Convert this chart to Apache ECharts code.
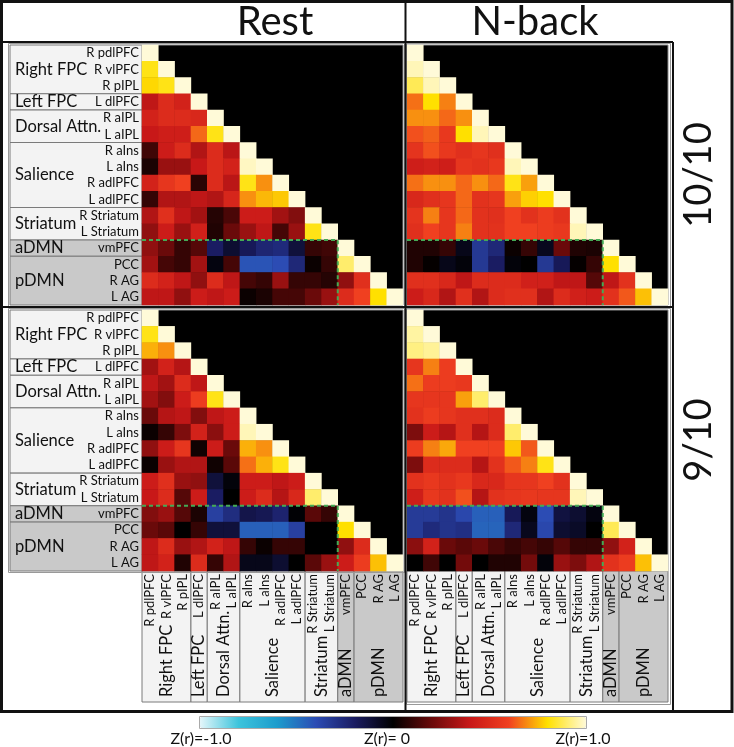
<!DOCTYPE html>
<html><head><meta charset="utf-8">
<script src="https://cdn.jsdelivr.net/npm/echarts@6/dist/echarts.min.js"></script>
<style>html,body{margin:0;padding:0;background:#fff}#c{width:734px;height:747px}</style>
</head><body><div id="c"></div>
<script>
// ---------- data ----------
const regions = ['R pdlPFC','R vlPFC','R pIPL','L dlPFC','R aIPL','L aIPL','R aIns','L aIns','R adlPFC','L adlPFC','R Striatum','L Striatum','vmPFC','PCC','R AG','L AG'];

const groupNames = ['Right FPC','Left FPC','Dorsal Attn.','Salience','Striatum','aDMN','pDMN'];
const groupStart = [0, 3, 4, 6, 10, 12, 13];
const groupEnd   = [2, 3, 5, 9, 11, 12, 15];
const dmnGroups = ['aDMN','pDMN'];
const dmnFirstRegion = 'vmPFC';

const columnTitles = ['Rest','N-back'];
const rowTitles = ['10/10','9/10'];
const colorbarTicks = ['Z(r)=-1.0','Z(r)= 0','Z(r)=1.0'];

// lower-triangular Fisher-z matrices (row i: columns 0..i)
const restFull = [
 [1],
 [0.82,1],
 [0.79,0.82,1],
 [0.38,0.50,0.45,1],
 [0.45,0.50,0.50,0.48,1],
 [0.40,0.43,0.43,0.65,0.82,1],
 [0.12,0.42,0.50,0.35,0.50,0.37,1],
 [0.05,0.30,0.30,0.40,0.50,0.45,0.98,1],
 [0.45,0.55,0.60,0.08,0.50,0.37,0.82,0.70,1],
 [0.10,0.35,0.35,0.38,0.35,0.47,0.70,0.75,0.77,1],
 [0.35,0.52,0.38,0.32,0.07,0.14,0.42,0.42,0.32,0.25,1],
 [0.28,0.42,0.30,0.44,0.06,0.20,0.30,0.38,0.13,0.30,0.82,1],
 [0.28,0.20,0.10,0.16,-0.20,-0.10,-0.18,-0.24,-0.26,-0.12,0.10,0.12,1],
 [0.32,0.13,0.10,0.32,-0.03,0.13,-0.42,-0.42,-0.40,-0.25,0.02,0.10,0.90,1],
 [0.50,0.45,0.38,0.28,0.50,0.38,0.13,0.10,0.30,0.10,0.10,0.07,0.28,0.52,1],
 [0.38,0.38,0.28,0.42,0.38,0.42,0.02,0.05,0.13,0.13,0.20,0.30,0.50,0.60,0.80,1]
];
const nbackFull = [
 [1],
 [0.97,1],
 [0.88,0.97,1],
 [0.66,0.80,0.68,1],
 [0.70,0.70,0.65,0.70,1],
 [0.62,0.64,0.56,0.80,0.97,1],
 [0.54,0.62,0.56,0.52,0.55,0.52,1],
 [0.43,0.45,0.43,0.55,0.53,0.56,0.97,1],
 [0.66,0.70,0.70,0.65,0.70,0.65,0.82,0.72,1],
 [0.48,0.52,0.55,0.65,0.53,0.55,0.72,0.78,0.80,1],
 [0.54,0.68,0.55,0.65,0.53,0.52,0.60,0.53,0.58,0.53,1],
 [0.52,0.60,0.55,0.68,0.53,0.53,0.60,0.60,0.58,0.56,0.97,1],
 [0.06,0.06,0.10,-0.05,-0.32,-0.25,0.02,0.10,-0.06,0.20,0.06,0.05,1],
 [0.06,0.01,-0.05,-0.02,-0.32,-0.20,-0.02,0.00,-0.32,-0.18,0.01,0.10,0.80,1],
 [0.52,0.52,0.48,0.38,0.50,0.50,0.50,0.44,0.44,0.38,0.38,0.16,0.38,0.53,1],
 [0.42,0.48,0.35,0.52,0.35,0.50,0.52,0.52,0.35,0.50,0.44,0.42,0.53,0.63,0.76,1]
];
const rest9 = [
 [1],
 [0.82,1],
 [0.74,0.70,1],
 [0.32,0.45,0.36,1],
 [0.38,0.32,0.50,0.38,1],
 [0.32,0.25,0.42,0.58,0.82,1],
 [0.20,0.36,0.38,0.25,0.38,0.42,1],
 [0.02,0.10,0.24,0.45,0.27,0.42,0.97,1],
 [0.28,0.42,0.55,0.03,0.42,0.20,0.74,0.70,1],
 [0.02,0.30,0.35,0.35,0.03,0.17,0.66,0.74,0.82,1],
 [0.42,0.52,0.30,0.28,-0.12,-0.02,0.42,0.42,0.38,0.42,1],
 [0.40,0.50,0.16,0.42,-0.20,0.00,0.42,0.50,0.36,0.48,0.90,1],
 [0.25,0.30,0.16,0.05,-0.35,-0.27,-0.15,-0.17,-0.23,-0.01,0.17,0.10,1],
 [0.20,0.17,0.00,0.10,-0.12,-0.12,-0.45,-0.45,-0.45,-0.35,0.00,0.00,0.80,1],
 [0.38,0.50,0.30,0.35,0.45,0.38,0.10,0.02,0.10,0.10,0.00,0.00,0.28,0.50,1],
 [0.38,0.45,0.06,0.50,0.10,0.35,-0.05,-0.05,-0.10,0.00,0.17,0.30,0.42,0.58,0.76,1]
];
const nback9 = [
 [1],
 [0.95,1],
 [0.92,0.94,1],
 [0.55,0.68,0.58,1],
 [0.66,0.58,0.58,0.56,1],
 [0.55,0.55,0.55,0.72,0.90,1],
 [0.53,0.58,0.55,0.52,0.52,0.50,1],
 [0.24,0.42,0.36,0.52,0.36,0.50,0.90,1],
 [0.58,0.68,0.73,0.60,0.60,0.60,0.77,0.63,1],
 [0.24,0.50,0.50,0.50,0.36,0.53,0.63,0.68,0.82,1],
 [0.53,0.56,0.53,0.56,0.48,0.48,0.55,0.55,0.60,0.53,1],
 [0.43,0.56,0.53,0.62,0.36,0.53,0.55,0.56,0.55,0.55,0.97,1],
 [-0.33,-0.33,-0.30,-0.38,-0.45,-0.45,-0.18,-0.03,-0.40,-0.13,-0.10,-0.03,1],
 [-0.33,-0.26,-0.30,-0.28,-0.46,-0.46,-0.25,-0.06,-0.38,-0.10,-0.08,0.00,0.88,1],
 [0.27,0.45,0.20,0.17,0.20,0.14,0.10,0.13,0.10,0.16,0.10,0.10,0.28,0.45,1],
 [0.00,0.12,0.00,0.22,0.00,0.06,0.06,0.22,-0.02,0.30,0.24,0.35,0.53,0.58,0.76,1]
];
const matrices = [restFull, nbackFull, rest9, nback9];

// ---------- layout / style ----------
const FONT = 'Lato, "Open Sans", sans-serif';
const gridBoxes = [
  {left:142, top:45, width:261, height:260},
  {left:407, top:45, width:261, height:260},
  {left:142, top:310, width:261, height:261},
  {left:407, top:310, width:261, height:261}
];
const rowPanelW = 132, colPanelH = 131;

function toCells(m){
  const out = [];
  m.forEach((row, i) => row.forEach((v, j) => out.push([j, i, v])));
  return out;
}

const grids = gridBoxes.map(b => Object.assign({show:true, backgroundColor:'#000', borderColor:'#8a8a8a', borderWidth:1}, b));
const xAxes = gridBoxes.map((b, i) => ({
  type:'category', gridIndex:i, data:regions, z:10,
  axisLine:{show:false}, axisTick:{show:false}, splitLine:{show:false},
  axisLabel:{show:i>=2, interval:0, hideOverlap:false, rotate:90, margin:3, fontSize:13, color:'#111', fontFamily:FONT}
}));
const yAxes = gridBoxes.map((b, i) => ({
  type:'category', gridIndex:i, data:regions, inverse:true, z:10,
  axisLine:{show:false}, axisTick:{show:false}, splitLine:{show:false},
  axisLabel:{show:i%2===0, interval:0, hideOverlap:false, margin:3, fontSize:13, color:'#111', fontFamily:FONT}
}));

const series = [];
matrices.forEach((m, i) => series.push({
  type:'heatmap', xAxisIndex:i, yAxisIndex:i, data:toCells(m),
  itemStyle:{borderWidth:0}, emphasis:{disabled:true}, silent:true, progressive:0, z:2
}));

const groupData = groupNames.map((n, g) => [0, groupStart[g], g]);
function groupFill(g){ return dmnGroups.indexOf(groupNames[g]) >= 0 ? '#c9c9c9' : '#f3f3f3'; }

// row group panels (left grids)
[0, 2].forEach(i => series.push({
  type:'custom', xAxisIndex:i, yAxisIndex:i, data:groupData, clip:false, silent:true, z:1,
  renderItem(params, api){
    const g = api.value(2);
    const cs = params.coordSys;
    const bh = api.size([1,1])[1];
    const y0 = api.coord([0, groupStart[g]])[1] - bh/2;
    const y1 = api.coord([0, groupEnd[g]])[1] + bh/2;
    const x0 = cs.x - rowPanelW;
    return {type:'group', children:[
      {type:'rect', shape:{x:x0, y:y0, width:rowPanelW, height:y1-y0}, style:{fill:groupFill(g), stroke:'#7a7a7a', lineWidth:1}},
      {type:'text', style:{text:groupNames[g], x:x0+5, y:(y0+y1)/2, align:'left', verticalAlign:'middle', fontSize:16.5, fontFamily:FONT, fill:'#111'}}
    ]};
  }
}));
// column group panels (bottom grids)
[2, 3].forEach(i => series.push({
  type:'custom', xAxisIndex:i, yAxisIndex:i, data:groupData, clip:false, silent:true, z:1,
  renderItem(params, api){
    const g = api.value(2);
    const cs = params.coordSys;
    const bw = api.size([1,1])[0];
    const x0 = api.coord([groupStart[g], 0])[0] - bw/2;
    const x1 = api.coord([groupEnd[g], 0])[0] + bw/2;
    const y0 = cs.y + cs.height;
    return {type:'group', children:[
      {type:'rect', shape:{x:x0, y:y0, width:x1-x0, height:colPanelH}, style:{fill:groupFill(g), stroke:'#7a7a7a', lineWidth:1}},
      {type:'text', x:(x0+x1)/2, y:y0+colPanelH-5, rotation:Math.PI/2,
       style:{text:groupNames[g], x:0, y:0, align:'left', verticalAlign:'middle', fontSize:16.5, fontFamily:FONT, fill:'#111'}}
    ]};
  }
}));
// dashed DMN block outline
const dmnIdx = regions.indexOf(dmnFirstRegion);
[0,1,2,3].forEach(i => series.push({
  type:'custom', xAxisIndex:i, yAxisIndex:i, data:[[dmnIdx, dmnIdx]], clip:false, silent:true, z:5,
  renderItem(params, api){
    const k = api.value(0);
    const cs = params.coordSys;
    const sz = api.size([1,1]);
    const p = api.coord([k, k]);
    const yTop = p[1] - sz[1]/2, xRight = p[0] - sz[0]/2;
    return {type:'polyline', shape:{points:[[cs.x, yTop],[xRight, yTop],[xRight, cs.y+cs.height]]},
      style:{stroke:'#44aa55', lineWidth:2, lineDash:[4,3], fill:null}};
  }
}));

const graphic = [
  // outer frame and dividers
  {type:'rect', shape:{x:1.5, y:1.5, width:730.5, height:710}, style:{fill:null, stroke:'#111', lineWidth:3}, z:50},
  {type:'line', shape:{x1:0, y1:42, x2:673, y2:42}, style:{stroke:'#111', lineWidth:2}, z:50},
  {type:'line', shape:{x1:405.5, y1:0, x2:405.5, y2:712}, style:{stroke:'#111', lineWidth:2}, z:50},
  {type:'line', shape:{x1:0, y1:307, x2:673, y2:307}, style:{stroke:'#111', lineWidth:2}, z:50},
  {type:'line', shape:{x1:673, y1:42, x2:673, y2:712}, style:{stroke:'#111', lineWidth:2}, z:50},
  // thin panel frames
  {type:'rect', shape:{x:8.5, y:43.5, width:396, height:263}, style:{fill:null, stroke:'#999', lineWidth:1}, z:40},
  {type:'rect', shape:{x:406.5, y:43.5, width:264, height:263}, style:{fill:null, stroke:'#999', lineWidth:1}, z:40},
  {type:'rect', shape:{x:8.5, y:308.5, width:396, height:264}, style:{fill:null, stroke:'#999', lineWidth:1}, z:40},
  {type:'rect', shape:{x:406.5, y:308.5, width:264, height:396}, style:{fill:null, stroke:'#999', lineWidth:1}, z:40},
  // titles
  {type:'text', x:275, y:22, style:{text:columnTitles[0], font:'40px '+FONT, fill:'#111', align:'center', verticalAlign:'middle'}, z:50},
  {type:'text', x:535, y:22, style:{text:columnTitles[1], font:'40px '+FONT, fill:'#111', align:'center', verticalAlign:'middle'}, z:50},
  {type:'text', x:699, y:175, rotation:Math.PI/2, style:{text:rowTitles[0], font:'38px '+FONT, fill:'#111', align:'center', verticalAlign:'middle'}, z:50},
  {type:'text', x:699, y:440, rotation:Math.PI/2, style:{text:rowTitles[1], font:'38px '+FONT, fill:'#111', align:'center', verticalAlign:'middle'}, z:50},
  // colorbar outline and labels
  {type:'rect', shape:{x:199.5, y:716.5, width:387, height:12}, style:{fill:null, stroke:'#aaa', lineWidth:1}, z:50},
  {type:'text', x:201, y:739, style:{text:colorbarTicks[0], font:'16px '+FONT, fill:'#111', align:'center', verticalAlign:'middle'}, z:50},
  {type:'text', x:387, y:739, style:{text:colorbarTicks[1], font:'16px '+FONT, fill:'#111', align:'center', verticalAlign:'middle'}, z:50},
  {type:'text', x:583, y:739, style:{text:colorbarTicks[2], font:'16px '+FONT, fill:'#111', align:'center', verticalAlign:'middle'}, z:50}
];

const chart = echarts.init(document.getElementById('c'), null, {renderer:'canvas'});
chart.setOption({
  animation:false,
  backgroundColor:'#fff',
  textStyle:{fontFamily:FONT},
  grid:grids, xAxis:xAxes, yAxis:yAxes,
  visualMap:{
    type:'continuous', min:-1, max:1, orient:'horizontal', left:200, top:717,
    itemWidth:11, itemHeight:386, calculable:false, padding:0, seriesIndex:[0,1,2,3],
    hoverLink:false, realtime:false,
    inRange:{color:['#e4f6fa','#3cc4dc','#1c9ccc','#2c4cb4','#1a1c62','#000000','#6a0a0a','#c81818','#f04020','#ffe000','#fffad8']}
  },
  series:series,
  graphic:graphic
});
</script>
</body></html>
